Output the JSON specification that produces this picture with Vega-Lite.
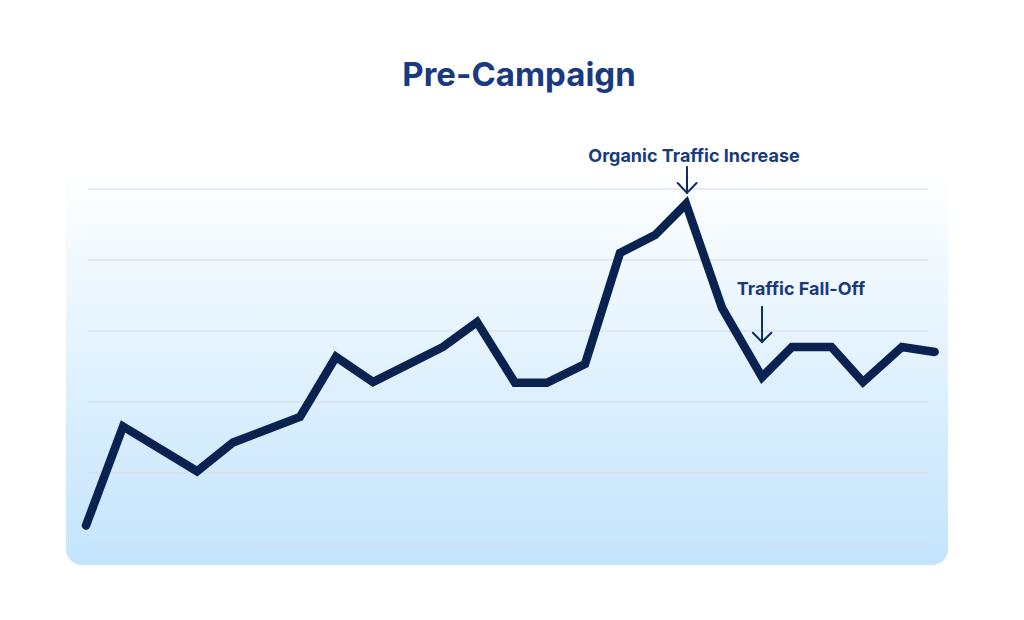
{
  "$schema": "https://vega.github.io/schema/vega-lite/v6.json",
  "width": 882,
  "height": 395,
  "autosize": {"type": "none"},
  "padding": {"left": 66, "top": 170, "right": 76, "bottom": 55},
  "background": "white",
  "title": {
    "text": "Pre-Campaign",
    "font": "Inter",
    "fontSize": 33,
    "fontWeight": 700,
    "color": "#1a3a80",
    "anchor": "middle",
    "baseline": "alphabetic",
    "dx": 12,
    "offset": 29
  },
  "config": {"view": {"stroke": null}},
  "datasets": {
    "traffic": [
      {"t": -0.24, "v": 5.2},
      {"t": 4.17, "v": 33.1},
      {"t": 12.98, "v": 20.5},
      {"t": 17.26, "v": 28.6},
      {"t": 25.24, "v": 35.8},
      {"t": 29.52, "v": 52.7},
      {"t": 33.93, "v": 45.6},
      {"t": 42.26, "v": 55.5},
      {"t": 46.31, "v": 62.5},
      {"t": 50.83, "v": 45.4},
      {"t": 54.64, "v": 45.4},
      {"t": 59.17, "v": 50.7},
      {"t": 63.33, "v": 82.0},
      {"t": 67.5, "v": 87.0},
      {"t": 71.19, "v": 95.8},
      {"t": 75.48, "v": 66.5},
      {"t": 80.24, "v": 47.0},
      {"t": 83.8, "v": 55.5},
      {"t": 88.5, "v": 55.5},
      {"t": 92.26, "v": 45.6},
      {"t": 96.9, "v": 55.5},
      {"t": 100.8, "v": 54.1}
    ],
    "grid": [{"v": 0}, {"v": 20}, {"v": 40}, {"v": 60}, {"v": 80}, {"v": 100}],
    "arrows": [
      {"seg": "a1-shaft", "seq": 1, "t": 71.31, "v": 106.2},
      {"seg": "a1-shaft", "seq": 2, "t": 71.31, "v": 98.9},
      {"seg": "a1-head", "seq": 1, "t": 70.2, "v": 101.7},
      {"seg": "a1-head", "seq": 2, "t": 71.31, "v": 98.9},
      {"seg": "a1-head", "seq": 3, "t": 72.45, "v": 101.7},
      {"seg": "a2-shaft", "seq": 1, "t": 80.24, "v": 66.8},
      {"seg": "a2-shaft", "seq": 2, "t": 80.24, "v": 56.9},
      {"seg": "a2-head", "seq": 1, "t": 79.15, "v": 59.5},
      {"seg": "a2-head", "seq": 2, "t": 80.24, "v": 56.9},
      {"seg": "a2-head", "seq": 3, "t": 81.35, "v": 59.5}
    ],
    "notes": [
      {"t": 72.14, "v": 107.6, "label": "Organic Traffic Increase"},
      {"t": 84.88, "v": 70.1, "label": "Traffic Fall-Off"}
    ]
  },
  "layer": [
    {
      "data": {"values": [{}]},
      "mark": {
        "type": "rect",
        "cornerRadius": 16,
        "fill": {
          "gradient": "linear",
          "x1": 0, "y1": 0, "x2": 0, "y2": 1,
          "stops": [
            {"offset": 0, "color": "#ffffff"},
            {"offset": 1, "color": "#c3e4fc"}
          ]
        }
      },
      "encoding": {}
    },
    {
      "data": {"name": "grid"},
      "mark": {"type": "rule", "color": "#d6dbe1", "strokeWidth": 1},
      "encoding": {
        "x": {"datum": 0, "type": "quantitative", "scale": {"domain": [-2.62, 102.38], "nice": false, "zero": false}, "axis": null},
        "x2": {"datum": 100},
        "y": {"field": "v", "type": "quantitative", "scale": {"domain": [-5.92, 105.35], "nice": false, "zero": false}, "axis": null}
      }
    },
    {
      "data": {"name": "traffic"},
      "mark": {"type": "line", "color": "#0a2250", "strokeWidth": 8.5, "strokeCap": "round", "strokeJoin": "miter", "clip": false},
      "encoding": {
        "x": {"field": "t", "type": "quantitative", "scale": {"domain": [-2.62, 102.38], "nice": false, "zero": false}, "axis": null},
        "y": {"field": "v", "type": "quantitative", "scale": {"domain": [-5.92, 105.35], "nice": false, "zero": false}, "axis": null},
        "order": {"field": "t"}
      }
    },
    {
      "data": {"name": "arrows"},
      "mark": {"type": "line", "color": "#102c5e", "strokeWidth": 2, "strokeCap": "round", "clip": false},
      "encoding": {
        "x": {"field": "t", "type": "quantitative", "scale": {"domain": [-2.62, 102.38], "nice": false, "zero": false}, "axis": null},
        "y": {"field": "v", "type": "quantitative", "scale": {"domain": [-5.92, 105.35], "nice": false, "zero": false}, "axis": null},
        "detail": {"field": "seg"},
        "order": {"field": "seq"}
      }
    },
    {
      "data": {"name": "notes"},
      "mark": {"type": "text", "font": "Inter", "fontSize": 18, "fontWeight": 700, "color": "#1a3a7c", "align": "center", "baseline": "alphabetic", "clip": false},
      "encoding": {
        "x": {"field": "t", "type": "quantitative", "scale": {"domain": [-2.62, 102.38], "nice": false, "zero": false}, "axis": null},
        "y": {"field": "v", "type": "quantitative", "scale": {"domain": [-5.92, 105.35], "nice": false, "zero": false}, "axis": null},
        "text": {"field": "label"}
      }
    }
  ]
}
